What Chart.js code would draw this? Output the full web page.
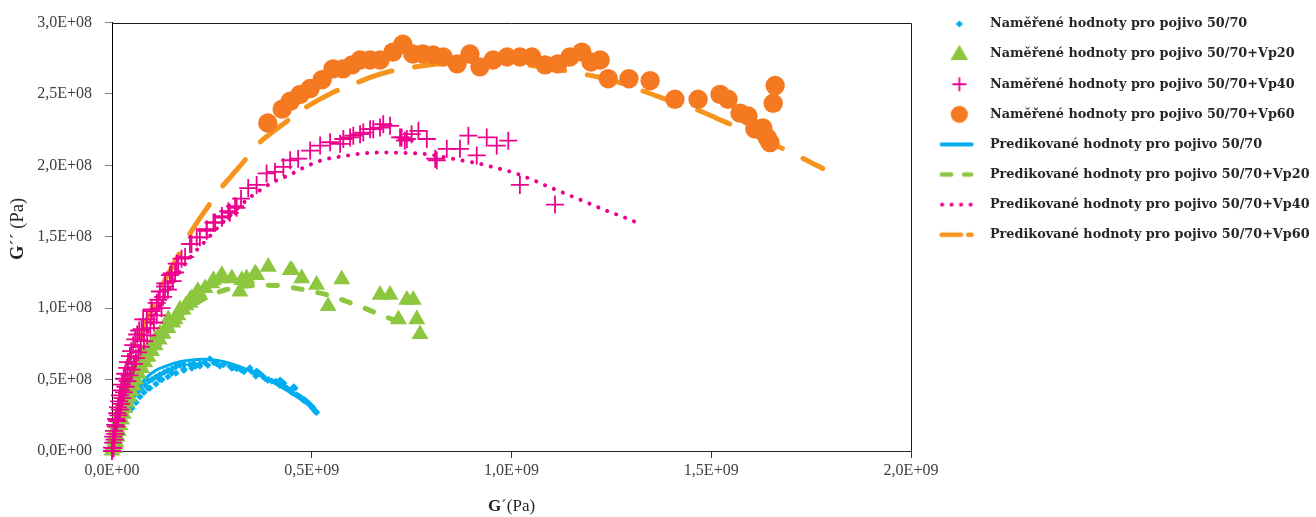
<!DOCTYPE html>
<html>
<head>
<meta charset="utf-8">
<script src="https://cdn.jsdelivr.net/npm/chart.js@4.4.1/dist/chart.umd.min.js"></script>
<style>
  html, body { margin: 0; padding: 0; background: #ffffff; }
  #wrap { width: 1316px; height: 517px; position: relative; }
  canvas { display: block; }
</style>
</head>
<body>
<div id="wrap"><canvas id="c" width="1316" height="517" style="width:1316px;height:517px"></canvas></div>
<script>
// ---- Data (x: G' in units of 1E+09 Pa, y: G'' in units of 1E+08 Pa) ----
const seriesNames = [
  'Naměřené hodnoty pro pojivo 50/70',
  'Naměřené hodnoty pro pojivo 50/70+Vp20',
  'Naměřené hodnoty pro pojivo 50/70+Vp40',
  'Naměřené hodnoty pro pojivo 50/70+Vp60',
  'Predikované hodnoty pro pojivo 50/70',
  'Predikované hodnoty pro pojivo 50/70+Vp20',
  'Predikované hodnoty pro pojivo 50/70+Vp40',
  'Predikované hodnoty pro pojivo 50/70+Vp60'
];
const xTickLabels = ['0,0E+00', '0,5E+09', '1,0E+09', '1,5E+09', '2,0E+09'];
const yTickLabels = ['0,0E+00', '0,5E+08', '1,0E+08', '1,5E+08', '2,0E+08', '2,5E+08', '3,0E+08'];
const xTitleParts = ['G', '´(Pa)'];
const yTitleParts = ['G', '´´ (Pa)'];

const measured5070 = [
  [0.003,0.02],[0.006,0.06],[0.01,0.1],[0.014,0.14],[0.018,0.18],[0.023,0.22],[0.028,0.26],[0.034,0.3],
  [0.041,0.33],[0.048,0.36],[0.056,0.39],[0.064,0.415],[0.072,0.44],[0.082,0.465],[0.09,0.44],[0.092,0.49],
  [0.1,0.5],[0.11,0.52],[0.12,0.5],[0.12,0.535],[0.13,0.55],[0.14,0.565],[0.15,0.545],[0.15,0.575],[0.16,0.59],
  [0.17,0.6],[0.18,0.575],[0.18,0.605],[0.195,0.605],[0.205,0.612],[0.21,0.595],[0.22,0.612],[0.232,0.62],
  [0.245,0.646],[0.255,0.618],[0.262,0.612],[0.279,0.605],[0.295,0.596],[0.305,0.585],[0.312,0.577],
  [0.322,0.57],[0.329,0.566],[0.345,0.582],[0.35,0.555],[0.358,0.543],[0.37,0.543],[0.377,0.525],
  [0.383,0.508],[0.392,0.5],[0.4,0.49],[0.41,0.487],[0.416,0.485],[0.421,0.497],[0.429,0.455],[0.438,0.44],
  [0.446,0.428],[0.458,0.44],[0.462,0.394],[0.468,0.385],[0.475,0.371],[0.481,0.36],[0.487,0.348],
  [0.494,0.33],[0.5,0.313],[0.504,0.3],[0.508,0.279],[0.512,0.27],
  [0.05,0.3],[0.06,0.34],[0.07,0.38],[0.08,0.41],[0.095,0.44],[0.11,0.47],[0.125,0.5],[0.14,0.52],
  [0.16,0.545],[0.18,0.565],[0.2,0.58],[0.22,0.595],[0.24,0.6],[0.27,0.595],[0.3,0.58],[0.33,0.555],
  [0.36,0.525],[0.39,0.495],[0.42,0.46],[0.45,0.41],[0.48,0.355],[0.5,0.305],[0.362,0.56],[0.43,0.475],
  [0.455,0.45]
];
const measuredVp20 = [
  [0.000,0.003],[0.003,0.038],[0.005,0.079],[0.008,0.114],[0.010,0.155],[0.013,0.189],[0.018,0.231],
  [0.020,0.272],[0.025,0.313],[0.028,0.348],[0.033,0.389],[0.038,0.424],[0.043,0.458],[0.048,0.493],
  [0.053,0.527],[0.058,0.561],[0.065,0.596],[0.070,0.623],[0.078,0.658],[0.083,0.685],[0.090,0.713],
  [0.098,0.741],[0.105,0.768],[0.113,0.796],[0.120,0.823],[0.137,0.865],[0.141,0.922],[0.158,0.922],
  [0.170,0.991],[0.178,0.991],[0.195,1.037],[0.195,1.059],[0.212,1.106],[0.220,1.094],[0.233,1.140],
  [0.250,1.174],[0.254,1.197],[0.270,1.209],[0.275,1.232],[0.300,1.209],[0.320,1.117],[0.325,1.197],
  [0.337,1.209],[0.358,1.243],[0.362,1.232],[0.391,1.290],[0.446,1.266],[0.450,1.266],[0.475,1.209],
  [0.512,1.163],[0.541,1.014],[0.575,1.202],[0.671,1.094],[0.696,1.094],[0.717,0.922],[0.738,1.059],
  [0.754,1.059],[0.763,0.922],[0.771,0.818],
  [0.006,0.02],[0.01,0.06],[0.013,0.1],[0.016,0.14],[0.02,0.18],[0.024,0.22],[0.028,0.26],[0.032,0.3],
  [0.037,0.34],[0.042,0.38],[0.047,0.42],[0.053,0.46],[0.059,0.5],[0.066,0.54],[0.074,0.58],[0.082,0.62],
  [0.09,0.66],[0.099,0.7],[0.108,0.74],[0.118,0.78],[0.128,0.82],[0.14,0.86],[0.152,0.9],[0.165,0.95],
  [0.185,1.02],[0.2,1.07],[0.215,1.12]
];
const measuredVp40 = [
  [0.000,0.000],[0.000,0.024],[0.003,0.059],[0.003,0.100],[0.005,0.141],[0.008,0.183],[0.010,0.224],
  [0.013,0.265],[0.015,0.306],[0.018,0.348],[0.020,0.389],[0.023,0.424],[0.025,0.465],[0.030,0.506],
  [0.033,0.541],[0.038,0.582],[0.040,0.623],[0.045,0.665],[0.048,0.699],[0.053,0.741],[0.058,0.782],
  [0.063,0.816],[0.068,0.844],[0.074,0.853],[0.078,0.922],[0.087,0.922],[0.099,0.980],[0.099,0.991],
  [0.112,1.037],[0.116,1.059],[0.120,1.117],[0.133,1.152],[0.133,1.174],[0.145,1.232],[0.149,1.243],
  [0.162,1.312],[0.166,1.312],[0.174,1.347],[0.183,1.358],[0.195,1.450],[0.199,1.450],[0.212,1.496],
  [0.220,1.496],[0.237,1.542],[0.237,1.553],[0.254,1.600],[0.258,1.600],[0.275,1.634],[0.275,1.645],
  [0.291,1.679],[0.295,1.668],[0.308,1.714],[0.312,1.703],[0.323,1.767],[0.341,1.841],[0.362,1.863],
  [0.387,1.944],[0.408,1.955],[0.429,1.989],[0.446,2.036],[0.466,2.047],[0.496,2.104],[0.521,2.139],
  [0.546,2.162],[0.571,2.151],[0.579,2.185],[0.596,2.196],[0.604,2.208],[0.621,2.219],[0.629,2.230],
  [0.646,2.254],[0.654,2.254],[0.671,2.265],[0.679,2.288],[0.696,2.277],[0.721,2.196],[0.725,2.196],
  [0.733,2.173],[0.738,2.185],[0.750,2.219],[0.767,2.242],[0.788,2.185],[0.809,2.047],[0.813,2.036],
  [0.838,2.116],[0.871,2.116],[0.892,2.208],[0.913,2.070],[0.938,2.196],[0.963,2.139],[0.992,2.173],
  [1.021,1.863],[1.109,1.726],
  [0.004,0.02],[0.006,0.08],[0.008,0.12],[0.01,0.17],[0.013,0.21],[0.016,0.25],[0.02,0.29],[0.023,0.33],
  [0.026,0.37],[0.03,0.41],[0.034,0.45],[0.039,0.49],[0.044,0.53],[0.049,0.57],[0.055,0.61],[0.06,0.65],
  [0.066,0.69],[0.072,0.73],[0.08,0.77],[0.088,0.81],[0.096,0.86],[0.105,0.9],[0.112,0.95],[0.124,1.0],
  [0.128,1.08],[0.14,1.13],[0.152,1.19],[0.158,1.25]
];
const measuredVp60 = [
  [0.390,2.297],[0.426,2.394],[0.446,2.449],[0.471,2.497],[0.496,2.538],[0.526,2.600],[0.553,2.676],
  [0.578,2.676],[0.601,2.704],[0.621,2.738],[0.646,2.738],[0.671,2.738],[0.703,2.793],[0.728,2.848],
  [0.753,2.780],[0.778,2.780],[0.804,2.773],[0.829,2.759],[0.864,2.711],[0.896,2.780],[0.921,2.690],
  [0.954,2.738],[0.989,2.759],[1.021,2.759],[1.051,2.759],[1.084,2.704],[1.116,2.711],[1.146,2.759],
  [1.176,2.793],[1.199,2.724],[1.222,2.738],[1.242,2.607],[1.294,2.607],[1.347,2.593],[1.409,2.463],
  [1.467,2.463],[1.522,2.497],[1.542,2.463],[1.572,2.366],[1.592,2.346],[1.609,2.256],[1.629,2.263],
  [1.640,2.194],[1.647,2.160],[1.655,2.435],[1.660,2.559]
];
const predicted5070 = [
  [0,0],[0.01,0.1],[0.025,0.23],[0.045,0.35],[0.065,0.44],[0.085,0.51],[0.11,0.565],[0.14,0.6],
  [0.17,0.625],[0.2,0.638],[0.23,0.642],[0.26,0.636],[0.29,0.618],[0.32,0.59],[0.35,0.555],[0.38,0.515],
  [0.41,0.47],[0.44,0.42],[0.47,0.365],[0.5,0.305],[0.515,0.275]
];
const predictedVp20 = [
  [0,0],[0.01,0.12],[0.025,0.27],[0.045,0.43],[0.07,0.58],[0.1,0.72],[0.14,0.86],[0.18,0.97],[0.22,1.05],
  [0.26,1.105],[0.3,1.14],[0.34,1.156],[0.38,1.162],[0.43,1.154],[0.46,1.14],[0.5,1.118],[0.54,1.093],
  [0.57,1.065],[0.6,1.033],[0.63,1.003],[0.66,0.968],[0.69,0.935],[0.73,0.885]
];
const predictedVp40 = [
  [0,0],[0.02,0.25],[0.04,0.45],[0.07,0.7],[0.1,0.9],[0.128,1.06],[0.153,1.175],[0.178,1.29],[0.208,1.395],
  [0.233,1.468],[0.27,1.58],[0.3,1.66],[0.338,1.76],[0.37,1.825],[0.401,1.88],[0.447,1.937],[0.484,1.99],
  [0.53,2.04],[0.58,2.065],[0.631,2.085],[0.681,2.09],[0.748,2.086],[0.798,2.075],[0.865,2.04],[0.915,2.015],
  [0.961,1.983],[1.007,1.948],[1.053,1.898],[1.095,1.848],[1.141,1.795],[1.187,1.742],[1.229,1.692],
  [1.275,1.644],[1.319,1.594]
];
const predictedVp60 = [
  [0,0],[0.015,0.2],[0.035,0.42],[0.058,0.63],[0.083,0.88],[0.105,1.03],[0.124,1.152],[0.145,1.26],
  [0.166,1.369],[0.187,1.484],[0.215,1.61],[0.241,1.714],[0.266,1.817],[0.3,1.93],[0.329,2.024],[0.362,2.14],
  [0.4,2.23],[0.433,2.299],[0.471,2.38],[0.515,2.455],[0.558,2.518],[0.6,2.564],[0.645,2.615],[0.692,2.656],
  [0.738,2.68],[0.788,2.702],[0.85,2.718],[0.92,2.725],[0.98,2.72],[1.05,2.7],[1.11,2.675],[1.171,2.644],
  [1.22,2.617],[1.263,2.587],[1.305,2.545],[1.35,2.5],[1.388,2.461],[1.443,2.414],[1.49,2.36],[1.53,2.31],
  [1.576,2.254],[1.64,2.17],[1.705,2.082],[1.74,2.035],[1.779,1.978]
];

// ---- Styles ----
const C_BLUE = '#00AEEF', C_GREEN = '#8DC63F', C_PINK = '#EC008C', C_ORANGE = '#F47920', C_ORANGE_L = '#F7941D';
const TEXT = '#262626';
const serif = '"Liberation Serif", "Times New Roman", serif';
const LEGEND_FONT = 12.8, LEGEND_PAD = 17.3, LEGEND_BOX = 40;

const toXY = arr => arr.map(p => ({ x: p[0], y: p[1] }));

// ---- Legend marker images ----
function marker(fn) {
  const c = document.createElement('canvas');
  c.width = 64; c.height = 26;
  const g = c.getContext('2d');
  fn(g);
  return c;
}
const PX = 27.7, CY = 13;
const legendMarkers = [
  marker(g => { g.fillStyle = C_BLUE; g.beginPath(); g.moveTo(PX, CY - 3.6); g.lineTo(PX + 3.6, CY); g.lineTo(PX, CY + 3.6); g.lineTo(PX - 3.6, CY); g.closePath(); g.fill(); }),
  marker(g => { g.fillStyle = C_GREEN; g.beginPath(); g.moveTo(PX, CY - 9.5); g.lineTo(PX + 8.9, CY + 6); g.lineTo(PX - 8.9, CY + 6); g.closePath(); g.fill(); }),
  marker(g => { g.strokeStyle = C_PINK; g.lineWidth = 1.8; g.beginPath(); g.moveTo(PX - 7, CY); g.lineTo(PX + 7, CY); g.moveTo(PX, CY - 7); g.lineTo(PX, CY + 7); g.stroke(); }),
  marker(g => { g.fillStyle = C_ORANGE; g.beginPath(); g.arc(PX, CY, 8.6, 0, Math.PI * 2); g.fill(); }),
  marker(g => { g.strokeStyle = C_BLUE; g.lineWidth = 4; g.lineCap = 'round'; g.beginPath(); g.moveTo(10, CY); g.lineTo(40, CY); g.stroke(); }),
  marker(g => { g.strokeStyle = C_GREEN; g.lineWidth = 4.5; g.lineCap = 'round'; g.beginPath(); g.moveTo(10.2, CY); g.lineTo(19.5, CY); g.moveTo(32.5, CY); g.lineTo(39.5, CY); g.stroke(); }),
  marker(g => { g.fillStyle = C_PINK; [10.5, 20, 29.5, 39].forEach(x => { g.beginPath(); g.arc(x, CY, 2.1, 0, Math.PI * 2); g.fill(); }); }),
  marker(g => { g.strokeStyle = C_ORANGE_L; g.lineWidth = 4.5; g.lineCap = 'round'; g.beginPath(); g.moveTo(10, CY); g.lineTo(29.5, CY); g.moveTo(36.5, CY); g.lineTo(40, CY); g.stroke(); })
];

// ---- Plugin: legend placement, plot frame and axis titles ----
const framePlugin = {
  id: 'frameAndTitles',
  afterLayout(chart) {
    const lg = chart.legend;
    if (lg) {
      const left = 990 - LEGEND_FONT / 2 - LEGEND_BOX - LEGEND_PAD;
      const top = 24 - LEGEND_FONT / 2 - LEGEND_PAD;
      lg.left = left; lg.right = 1316; lg.width = 1316 - left;
      lg.top = top; lg.bottom = 517; lg.height = 517 - top;
    }
  },
  beforeDatasetsDraw(chart) {
    const { ctx, chartArea: a } = chart;
    ctx.save();
    ctx.strokeStyle = '#1a1a1a';
    ctx.lineWidth = 1;
    ctx.beginPath();
    ctx.moveTo(a.left, Math.round(a.top) + 0.5);
    ctx.lineTo(Math.round(a.right) + 0.5, Math.round(a.top) + 0.5);
    ctx.lineTo(Math.round(a.right) + 0.5, a.bottom);
    ctx.stroke();
    ctx.restore();
  },
  afterDraw(chart) {
    const { ctx, chartArea: a } = chart;
    function drawMixed(parts, cx, cy, size) {
      const bold = 'bold ' + size + 'px ' + serif, normal = size + 'px ' + serif;
      ctx.font = bold; const w0 = ctx.measureText(parts[0]).width;
      ctx.font = normal; const w1 = ctx.measureText(parts[1]).width;
      const x = cx - (w0 + w1) / 2;
      ctx.textAlign = 'left'; ctx.textBaseline = 'middle'; ctx.fillStyle = TEXT;
      ctx.font = bold; ctx.fillText(parts[0], x, cy);
      ctx.font = normal; ctx.fillText(parts[1], x + w0, cy);
    }
    ctx.save();
    drawMixed(xTitleParts, (a.left + a.right) / 2, 507, 17);
    ctx.translate(18, 229);
    ctx.rotate(-Math.PI / 2);
    drawMixed(yTitleParts, 0, 0, 18.5);
    ctx.restore();
  }
};

const measuredStyles = [
  { data: measured5070, pointStyle: 'rectRot', pointRadius: 3.6, color: C_BLUE, borderWidth: 0 },
  { data: measuredVp20, pointStyle: 'triangle', pointRadius: 9.8, color: C_GREEN, borderWidth: 0 },
  { data: measuredVp40, pointStyle: 'cross', pointRadius: 9, color: C_PINK, borderWidth: 1.8 },
  { data: measuredVp60, pointStyle: 'circle', pointRadius: 9.7, color: C_ORANGE, borderWidth: 0 }
];
const predictedStyles = [
  { data: predicted5070, color: C_BLUE, borderWidth: 3, borderDash: [] },
  { data: predictedVp20, color: C_GREEN, borderWidth: 5, borderDash: [9, 16] },
  { data: predictedVp40, color: C_PINK, borderWidth: 4, borderDash: [0.1, 9.5] },
  { data: predictedVp60, color: C_ORANGE_L, borderWidth: 5, borderDash: [35, 23] }
];

// Predicted curves are drawn underneath, measured points on top (last series uppermost).
const datasets = [];
measuredStyles.forEach((s, i) => {
  datasets.push({
    label: seriesNames[i], data: toXY(s.data), showLine: false,
    pointStyle: s.pointStyle, pointRadius: s.pointRadius, pointHoverRadius: s.pointRadius,
    pointBackgroundColor: s.color, pointBorderColor: s.color, pointBorderWidth: s.borderWidth,
    backgroundColor: s.color, borderColor: s.color,
    clip: false, order: 4 - i
  });
});
predictedStyles.forEach((s, i) => {
  datasets.push({
    label: seriesNames[4 + i], data: toXY(s.data), showLine: true,
    pointRadius: 0, pointHoverRadius: 0, borderColor: s.color, backgroundColor: s.color,
    borderWidth: s.borderWidth, borderDash: s.borderDash, borderCapStyle: 'round', borderJoinStyle: 'round',
    cubicInterpolationMode: 'monotone', fill: false, clip: false, order: 8 - i
  });
});

new Chart(document.getElementById('c'), {
  type: 'scatter',
  data: { datasets },
  options: {
    responsive: false,
    animation: false,
    devicePixelRatio: 1,
    events: [],
    layout: { padding: { left: 0, right: 405, top: 15, bottom: 0 } },
    plugins: {
      tooltip: { enabled: false },
      legend: {
        display: true,
        position: 'chartArea',
        align: 'start',
        labels: {
          usePointStyle: true,
          pointStyleWidth: LEGEND_BOX,
          padding: LEGEND_PAD,
          color: TEXT,
          font: { family: '"DejaVu Serif", serif', weight: 'bold', size: LEGEND_FONT },
          generateLabels: () => seriesNames.map((t, i) => ({
            text: t, pointStyle: legendMarkers[i], fillStyle: 'rgba(0,0,0,0)', strokeStyle: 'rgba(0,0,0,0)',
            lineWidth: 0, hidden: false, datasetIndex: i, fontColor: TEXT
          }))
        }
      }
    },
    scales: {
      x: {
        type: 'linear', position: 'bottom', min: 0, max: 2,
        ticks: {
          stepSize: 0.5, autoSkip: false, maxRotation: 0, padding: 3,
          color: '#404040', font: { family: serif, size: 16 },
          callback: (v) => xTickLabels[Math.round(v / 0.5)]
        },
        grid: { display: true, drawOnChartArea: false, drawTicks: true, tickLength: 7, color: '#333333', lineWidth: 1 },
        border: { display: true, color: '#262626', width: 1 },
        afterFit: (s) => { s.height = 66; }
      },
      y: {
        type: 'linear', position: 'left', min: 0, max: 3,
        ticks: {
          stepSize: 0.5, autoSkip: false, padding: 13,
          color: '#404040', font: { family: serif, size: 16 },
          callback: (v) => yTickLabels[Math.round(v / 0.5)]
        },
        grid: { display: true, drawOnChartArea: false, drawTicks: true, tickLength: 7, color: '#7f7f7f', lineWidth: 1 },
        border: { display: true, color: '#000000', width: 1 },
        afterFit: (s) => { s.width = 112; }
      }
    }
  },
  plugins: [framePlugin]
});
</script>
</body>
</html>
